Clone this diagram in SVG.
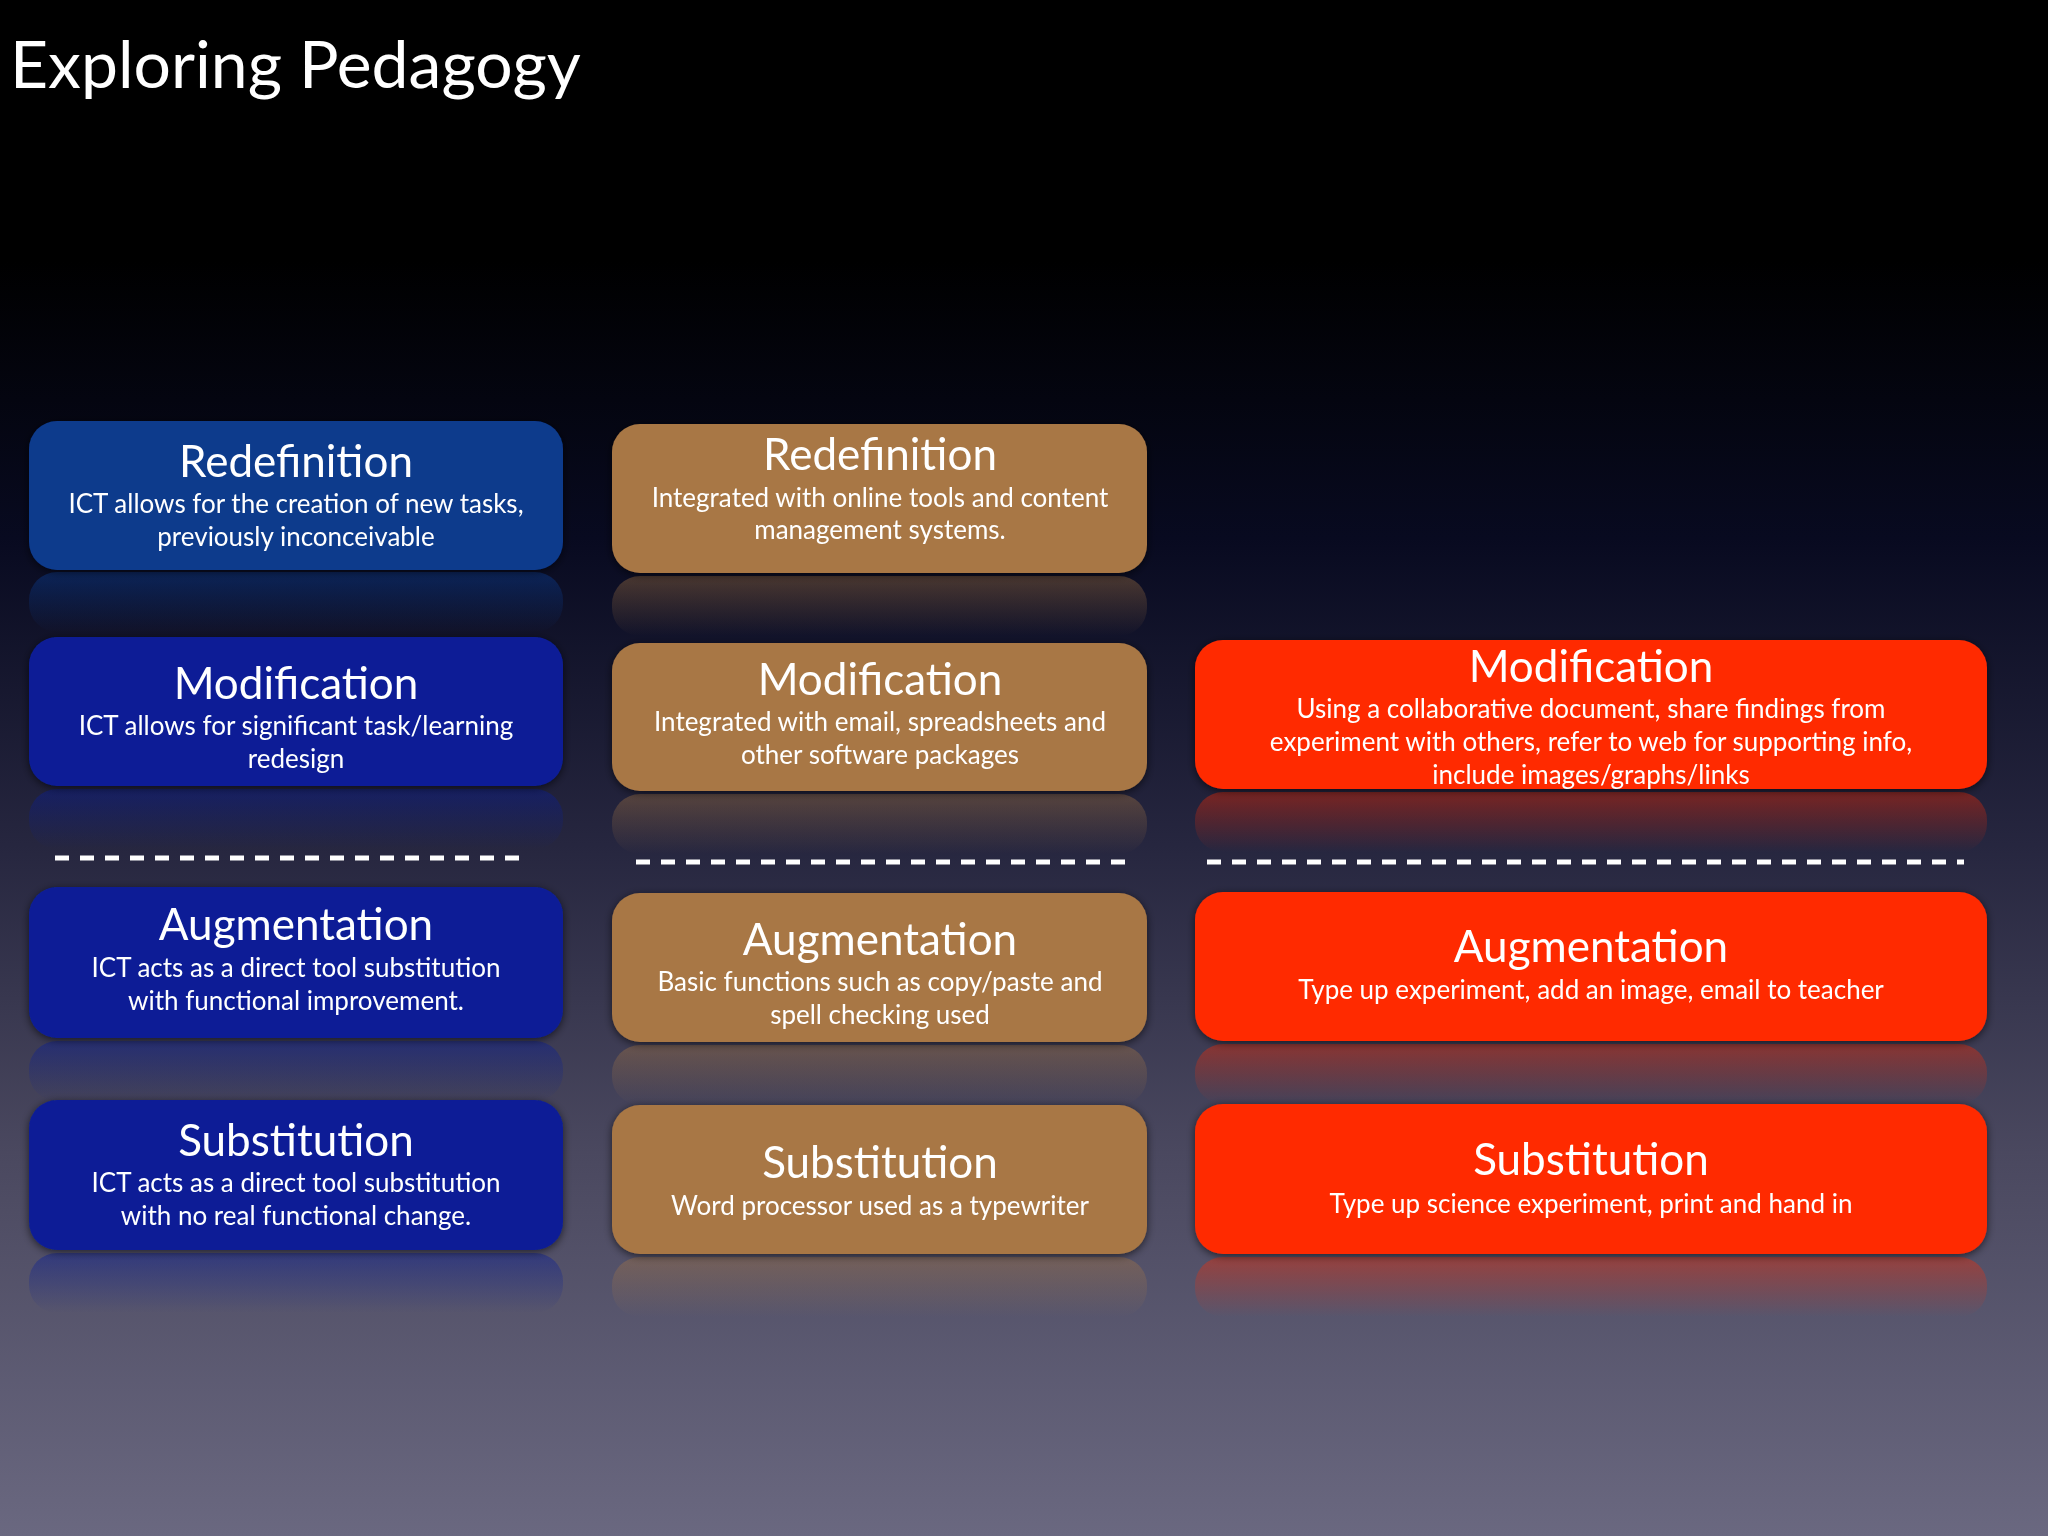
<svg xmlns="http://www.w3.org/2000/svg" width="2048" height="1536" viewBox="0 0 2048 1536">
<defs>
<linearGradient id="bg" x1="0" y1="0" x2="0" y2="1">
<stop offset="0" stop-color="#000000"/>
<stop offset="0.17" stop-color="#000000"/>
<stop offset="0.35" stop-color="#080a20"/>
<stop offset="0.55" stop-color="#26263f"/>
<stop offset="0.75" stop-color="#4a485f"/>
<stop offset="1" stop-color="#6a6880"/>
</linearGradient>
<linearGradient id="rBlue1" x1="0" y1="0" x2="0" y2="1"><stop offset="0" stop-color="#0b3a8c" stop-opacity="0.5"/><stop offset="1" stop-color="#0b3a8c" stop-opacity="0"/></linearGradient>
<linearGradient id="rBlue" x1="0" y1="0" x2="0" y2="1"><stop offset="0" stop-color="#0a1e96" stop-opacity="0.45"/><stop offset="1" stop-color="#0a1e96" stop-opacity="0"/></linearGradient>
<linearGradient id="rBrown" x1="0" y1="0" x2="0" y2="1"><stop offset="0" stop-color="#a87744" stop-opacity="0.4"/><stop offset="1" stop-color="#a87744" stop-opacity="0"/></linearGradient>
<linearGradient id="rRed" x1="0" y1="0" x2="0" y2="1"><stop offset="0" stop-color="#ff2a00" stop-opacity="0.4"/><stop offset="1" stop-color="#ff2a00" stop-opacity="0"/></linearGradient>
<filter id="sh" x="-5%" y="-10%" width="110%" height="125%">
<feDropShadow dx="0" dy="2" stdDeviation="4" flood-color="#000" flood-opacity="0.6"/>
</filter>
</defs>
<style>
.t{font-family:"Lato","Open Sans",sans-serif;fill:#ffffff;text-anchor:middle}
.h{font-size:44px}
.s{font-size:26px}
.title{font-family:"Lato","Open Sans",sans-serif;fill:#ffffff;font-size:66px}
.blue1{fill:#0b3a8c}
.blue{fill:#0a1e96}
.brown{fill:#a87744}
.red{fill:#ff2a00}
.dash{stroke:#ffffff;stroke-width:5;stroke-dasharray:14 11;fill:none}
</style>
<rect width="2048" height="1536" fill="url(#bg)"/>
<text class="title" x="10" y="88">Exploring Pedagogy</text>

<g id="reflections">
<rect x="29" y="572" width="534" height="60" rx="28" fill="url(#rBlue1)"/>
<rect x="29" y="789" width="534" height="60" rx="28" fill="url(#rBlue)"/>
<rect x="29" y="1041" width="534" height="60" rx="28" fill="url(#rBlue)"/>
<rect x="29" y="1253" width="534" height="60" rx="28" fill="url(#rBlue)"/>
<rect x="612" y="576" width="535" height="60" rx="28" fill="url(#rBrown)"/>
<rect x="612" y="794" width="535" height="60" rx="28" fill="url(#rBrown)"/>
<rect x="612" y="1045" width="535" height="60" rx="28" fill="url(#rBrown)"/>
<rect x="612" y="1257" width="535" height="60" rx="28" fill="url(#rBrown)"/>
<rect x="1195" y="792" width="792" height="60" rx="28" fill="url(#rRed)"/>
<rect x="1195" y="1044" width="792" height="60" rx="28" fill="url(#rRed)"/>
<rect x="1195" y="1257" width="792" height="60" rx="28" fill="url(#rRed)"/>
</g>

<g id="connectors">
<line class="dash" x1="55" y1="858" x2="524" y2="858"/>
<line class="dash" x1="636" y1="862" x2="1130" y2="862"/>
<line class="dash" x1="1207" y1="862" x2="1964" y2="862"/>
</g>

<g id="c1-redefinition" filter="url(#sh)">
<rect class="blue1" x="29" y="421" width="534" height="149" rx="28"/>
<text class="t h" x="296" y="477">Redefinition</text>
<text class="t s" x="296" y="513">ICT allows for the creation of new tasks,</text>
<text class="t s" x="296" y="546">previously inconceivable</text>
</g>
<g id="c1-modification" filter="url(#sh)">
<rect class="blue" x="29" y="637" width="534" height="149" rx="28"/>
<text class="t h" x="296" y="699">Modification</text>
<text class="t s" x="296" y="735">ICT allows for significant task/learning</text>
<text class="t s" x="296" y="768">redesign</text>
</g>
<g id="c1-augmentation" filter="url(#sh)">
<rect class="blue" x="29" y="887" width="534" height="151" rx="28"/>
<text class="t h" x="296" y="940">Augmentation</text>
<text class="t s" x="296" y="977">ICT acts as a direct tool substitution</text>
<text class="t s" x="296" y="1010">with functional improvement.</text>
</g>
<g id="c1-substitution" filter="url(#sh)">
<rect class="blue" x="29" y="1100" width="534" height="150" rx="28"/>
<text class="t h" x="296" y="1156">Substitution</text>
<text class="t s" x="296" y="1192">ICT acts as a direct tool substitution</text>
<text class="t s" x="296" y="1225">with no real functional change.</text>
</g>

<g id="c2-redefinition" filter="url(#sh)">
<rect class="brown" x="612" y="424" width="535" height="149" rx="28"/>
<text class="t h" x="880" y="470">Redefinition</text>
<text class="t s" x="880" y="507">Integrated with online tools and content</text>
<text class="t s" x="880" y="539">management systems.</text>
</g>
<g id="c2-modification" filter="url(#sh)">
<rect class="brown" x="612" y="643" width="535" height="148" rx="28"/>
<text class="t h" x="880" y="695">Modification</text>
<text class="t s" x="880" y="731">Integrated with email, spreadsheets and</text>
<text class="t s" x="880" y="764">other software packages</text>
</g>
<g id="c2-augmentation" filter="url(#sh)">
<rect class="brown" x="612" y="893" width="535" height="149" rx="28"/>
<text class="t h" x="880" y="955">Augmentation</text>
<text class="t s" x="880" y="991">Basic functions such as copy/paste and</text>
<text class="t s" x="880" y="1024">spell checking used</text>
</g>
<g id="c2-substitution" filter="url(#sh)">
<rect class="brown" x="612" y="1105" width="535" height="149" rx="28"/>
<text class="t h" x="880" y="1178">Substitution</text>
<text class="t s" x="880" y="1215">Word processor used as a typewriter</text>
</g>

<g id="c3-modification" filter="url(#sh)">
<rect class="red" x="1195" y="640" width="792" height="149" rx="28"/>
<text class="t h" x="1591" y="682">Modification</text>
<text class="t s" x="1591" y="718">Using a collaborative document, share findings from</text>
<text class="t s" x="1591" y="751">experiment with others, refer to web for supporting info,</text>
<text class="t s" x="1591" y="784">include images/graphs/links</text>
</g>
<g id="c3-augmentation" filter="url(#sh)">
<rect class="red" x="1195" y="892" width="792" height="149" rx="28"/>
<text class="t h" x="1591" y="962">Augmentation</text>
<text class="t s" x="1591" y="999">Type up experiment, add an image, email to teacher</text>
</g>
<g id="c3-substitution" filter="url(#sh)">
<rect class="red" x="1195" y="1104" width="792" height="150" rx="28"/>
<text class="t h" x="1591" y="1175">Substitution</text>
<text class="t s" x="1591" y="1213">Type up science experiment, print and hand in</text>
</g>
</svg>
